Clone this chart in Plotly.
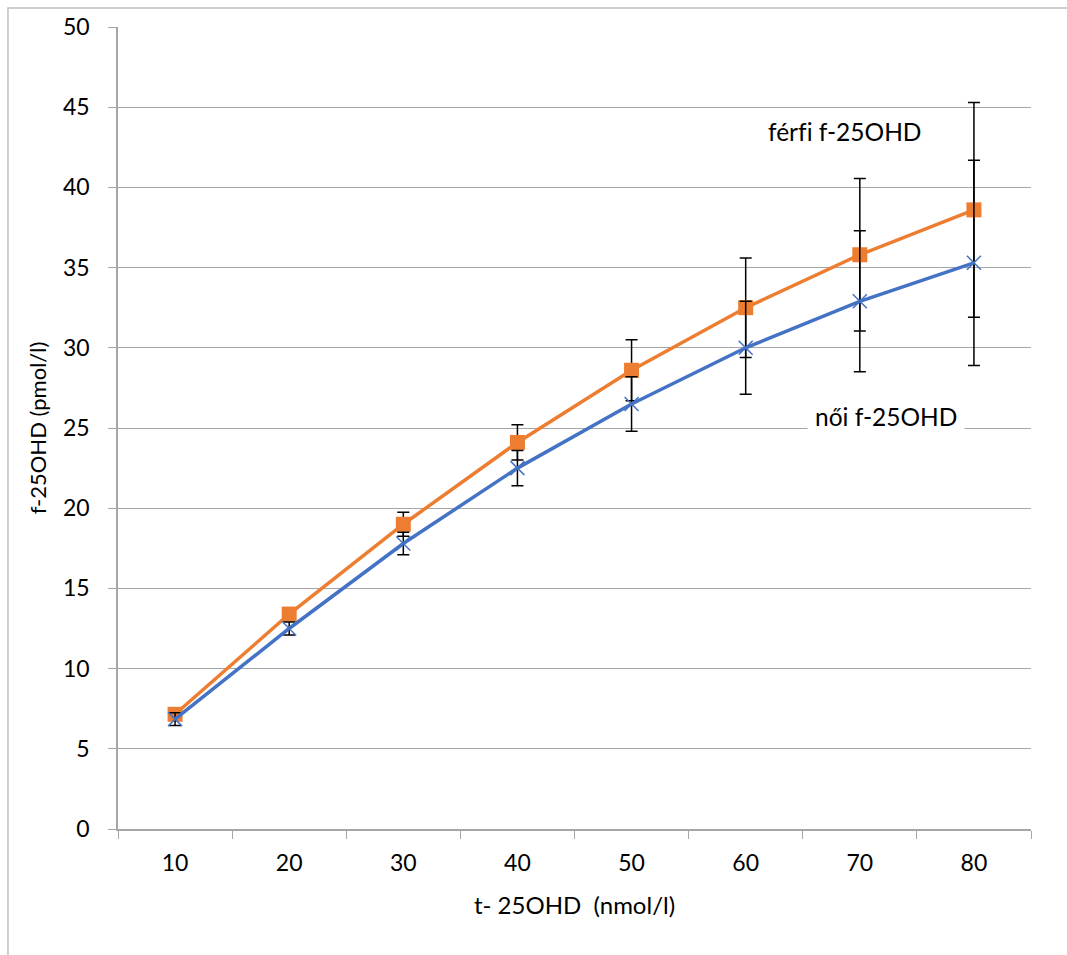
import plotly.graph_objects as go

categories = ["10", "20", "30", "40", "50", "60", "70", "80"]
ferfi = [7.15, 13.4, 19.0, 24.1, 28.6, 32.5, 35.8, 38.6]
ferfi_err = [0.3, 0.4, 0.75, 1.1, 1.9, 3.1, 4.75, 6.7]
noi = [6.85, 12.5, 17.8, 22.5, 26.5, 30.0, 32.9, 35.3]
noi_err = [0.4, 0.4, 0.7, 1.1, 1.7, 2.9, 4.4, 6.4]
y_ticks = [0, 5, 10, 15, 20, 25, 30, 35, 40, 45, 50]

FONT = "Lato, 'Open Sans', sans-serif"
ORANGE = "#ED7D31"
BLUE = "#4472C4"
GRID = "#a6a6a6"

fig = go.Figure()
fig.add_trace(go.Scatter(
    x=categories, y=ferfi, mode="lines+markers", name="férfi f-25OHD",
    line=dict(color=ORANGE, width=3.5),
    marker=dict(symbol="square", size=15, color=ORANGE),
    error_y=dict(type="data", array=ferfi_err, visible=True, color="black", thickness=1.5, width=6),
))
fig.add_trace(go.Scatter(
    x=categories, y=noi, mode="lines+markers", name="női f-25OHD",
    line=dict(color=BLUE, width=3.5),
    marker=dict(symbol="x-thin", size=14, color=BLUE, line=dict(color=BLUE, width=1.5)),
    error_y=dict(type="data", array=noi_err, visible=True, color="black", thickness=1.5, width=6),
))

fig.add_annotation(x=5.87, y=43.5, xref="x", yref="y", text="férf\u200ci f-25OHD", showarrow=False,
                   font=dict(family=FONT, size=24.5, color="black"))
fig.add_annotation(x=6.23, y=25.7, xref="x", yref="y", text="női f-25OHD", showarrow=False,
                   font=dict(family=FONT, size=24.5, color="black"), bgcolor="white",
                   borderpad=7)

fig.add_shape(type="rect", xref="paper", yref="paper",
              x0=-0.1205, x1=1.06, y0=-0.17, y1=1.0236,
              line=dict(color="#bfbfbf", width=1.5), fillcolor="rgba(0,0,0,0)", layer="below")

fig.update_layout(
    width=1067, height=955,
    margin=dict(l=118, r=36, t=24, b=126),
    plot_bgcolor="white", paper_bgcolor="white",
    showlegend=False,
    font=dict(family=FONT, size=22, color="black"),
    xaxis=dict(
        type="category", range=[-0.5, 7.5], tickson="boundaries",
        ticks="outside", ticklen=8, tickcolor=GRID,
        showline=True, linecolor=GRID, linewidth=1.5,
        showgrid=False, zeroline=False, ticklabelstandoff=13,
        title=dict(text="t- 25OHD  (nmol/l)", font=dict(family=FONT, size=24), standoff=22),
        tickfont=dict(family=FONT, size=23),
    ),
    yaxis=dict(
        range=[0, 50], tickvals=y_ticks,
        ticks="outside", ticklen=8, tickcolor=GRID,
        showline=True, linecolor=GRID, linewidth=1.5,
        showgrid=True, gridcolor=GRID, gridwidth=1.3, zeroline=False,
        ticklabelstandoff=14,
        title=dict(text="f-25OHD (pmol/l)", font=dict(family=FONT, size=22), standoff=10),
        tickfont=dict(family=FONT, size=23),
    ),
)

fig.write_html("out.html", config={"displayModeBar": False},
               post_script="document.body.style.margin='0';document.body.style.overflow='hidden';")
